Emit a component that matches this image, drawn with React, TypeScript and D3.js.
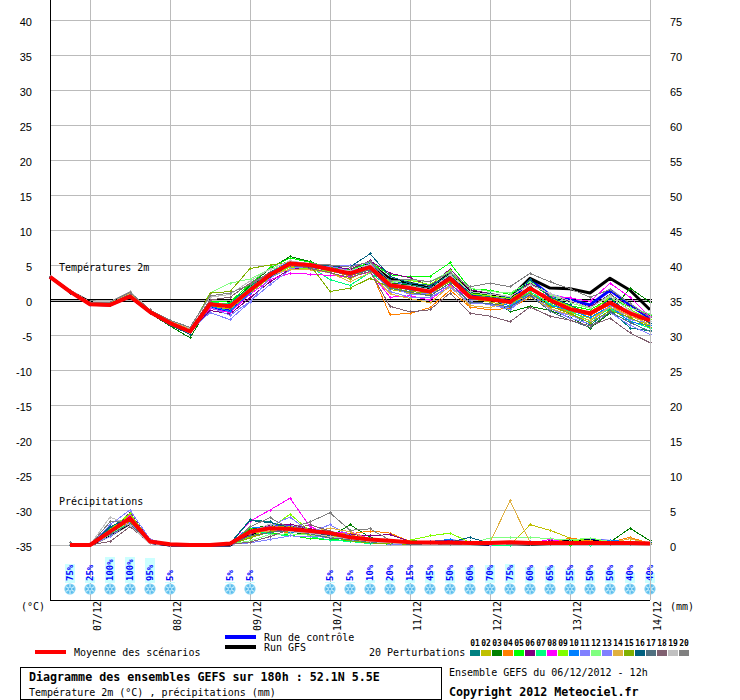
import React from "react";
import * as d3 from "d3";

const memberColors = ["#008080","#c0c000","#008000","#ff8000","#00ff00","#800080","#00ff80","#ff00ff","#80ff00","#0080ff","#8080ff","#80ff80","#8080ff","#e0b040","#80b000","#006080","#507080","#806070","#c0c0c0","#808080"];
const memberIds = ["01","02","03","04","05","06","07","08","09","10","11","12","13","14","15","16","17","18","19","20"];

const tempMean = [3.3,1.2,-0.6,-0.7,0.5,-1.7,-3.3,-4.5,-0.6,-0.9,1.4,3.6,5.2,5.0,4.4,3.8,4.7,2.1,1.7,1.2,3.1,0.4,0.1,-0.3,1.7,0.0,-1.3,-1.9,-0.4,-1.9,-2.9];
const tempControl = [3.3,1.2,-0.6,-0.7,0.5,-1.7,-3.3,-4.5,-1.0,-1.5,1.2,3.7,5.4,5.0,4.3,3.9,5.0,2.4,1.9,1.3,3.3,0.6,0.3,-0.2,2.9,0.7,0.0,-0.7,1.4,-0.7,-2.6];
const tempGfs = [3.3,1.2,-0.3,-0.5,0.6,-1.7,-3.3,-4.5,-0.6,-0.8,1.6,3.8,5.2,4.9,4.5,4.0,5.2,3.0,2.4,1.7,3.8,1.2,0.8,0.3,3.1,1.7,1.6,1.0,3.1,1.4,-1.4];
const tempMembers = [
  [3.3,1.0,-0.5,-0.6,0.5,-1.6,-3.4,-4.7,-0.4,-0.5,2.0,4.0,5.5,4.9,4.6,4.2,5.2,2.8,2.2,1.7,3.8,0.8,0.5,-0.2,2.0,-0.2,-2.0,-3.6,-1.4,-4.0,-4.4],
  [3.4,1.3,-0.5,-0.5,0.7,-1.6,-3.1,-4.3,-0.9,-1.3,1.0,3.4,4.7,4.6,3.9,3.0,4.5,1.5,1.0,0.8,2.7,0.2,-0.3,-0.8,1.2,-0.5,-1.8,-2.6,-1.1,-2.6,-3.6],
  [3.3,1.1,-0.7,-0.8,0.3,-1.9,-3.7,-5.4,-0.8,-0.9,2.1,4.5,6.2,5.5,4.3,3.6,4.6,2.4,2.1,1.4,3.7,1.0,0.7,-1.7,-0.9,-1.5,-2.5,-4.0,-1.9,1.7,-0.3],
  [3.3,1.2,-0.5,-0.6,0.6,-1.7,-3.3,-4.4,-0.7,-1.0,1.4,3.4,4.8,4.7,4.2,3.4,4.4,-2.1,-1.9,-1.1,1.4,-1.0,-1.4,-1.2,0.4,-1.0,-1.6,-2.2,-0.7,-2.4,-3.0],
  [3.3,1.2,-0.6,-0.6,0.6,-1.6,-3.2,-4.5,-0.2,-0.3,2.3,4.6,6.0,5.4,4.7,4.3,5.4,3.6,3.3,3.4,5.3,1.6,1.4,0.8,2.4,0.5,-0.8,-1.4,0.2,-1.0,-2.2],
  [3.3,1.2,-0.6,-0.7,0.4,-1.8,-3.5,-4.6,-1.5,-2.0,0.3,2.6,4.4,4.7,4.8,4.4,5.6,3.8,3.2,2.0,4.4,1.5,0.9,0.4,2.4,0.7,-0.2,-1.0,0.8,-1.0,-2.3],
  [3.3,1.2,-0.5,-0.6,0.5,-1.7,-3.3,-4.5,-0.3,-0.6,1.8,3.8,5.0,4.8,2.9,2.1,3.9,1.8,1.6,1.0,3.2,0.5,0.4,-0.6,1.2,-0.6,-1.6,-3.0,-1.2,-3.0,-4.0],
  [3.3,1.2,-0.6,-0.7,0.5,-1.8,-3.4,-4.5,-1.2,-1.8,0.8,2.9,3.8,3.7,3.5,3.3,4.0,0.4,0.6,0.0,2.2,0.3,0.2,-0.5,1.5,0.6,0.3,-0.2,2.4,0.4,-2.4],
  [3.3,1.2,-0.6,-0.7,0.6,-1.6,-3.2,-4.6,-0.5,-0.8,1.0,3.2,4.7,4.4,4.1,3.6,4.7,2.6,2.8,2.2,4.2,0.9,0.6,0.2,1.8,0.3,-0.9,-1.8,0.4,-1.4,-2.8],
  [3.3,1.1,-0.7,-0.7,0.5,-1.7,-3.3,-4.4,-0.9,-1.6,1.0,3.9,5.6,4.9,4.3,3.9,5.0,2.1,1.4,1.2,3.0,0.1,0.2,-0.9,1.0,-0.8,-1.4,-2.5,-0.9,-3.1,-3.7],
  [3.3,1.2,-0.6,-0.7,0.7,-1.7,-3.3,-4.4,-1.8,-2.8,-0.3,3.2,4.5,4.8,5.0,4.9,5.3,1.9,0.8,0.9,2.0,-0.2,-0.7,-1.1,0.6,-1.3,-2.2,-3.2,-1.8,-3.6,-4.9],
  [3.4,1.2,-0.4,-0.4,0.8,-1.5,-3.1,-4.2,1.0,2.4,3.0,4.4,5.0,4.8,4.2,3.7,4.4,2.5,2.9,2.6,4.1,1.7,1.2,1.0,2.6,0.8,-0.4,-1.2,0.7,-1.1,-2.0],
  [3.3,1.1,-0.8,-0.8,0.4,-1.8,-3.6,-4.7,-1.0,-2.2,-0.2,2.2,4.3,4.4,4.8,4.2,4.6,1.2,0.4,0.4,1.8,-0.5,-0.6,-1.4,0.9,-1.2,-2.6,-3.4,-0.7,-2.8,-3.3],
  [3.3,1.3,-0.5,-0.5,0.9,-1.5,-3.0,-4.1,-0.4,-0.7,1.6,3.5,4.4,4.3,3.9,2.6,3.9,0.9,0.2,-0.4,2.0,-0.8,-1.1,-0.2,0.5,-1.2,-2.1,-2.9,-1.0,-2.3,-3.4],
  [3.4,1.3,-0.4,-0.6,0.6,-1.6,-3.2,-4.3,1.0,1.2,4.5,5.0,5.4,5.0,1.2,1.7,3.1,1.8,1.2,1.0,2.6,0.6,0.0,-0.4,1.0,-0.9,-1.9,-3.3,-1.5,-2.5,-3.9],
  [3.3,1.0,-0.7,-0.8,0.3,-1.9,-3.6,-4.9,-0.6,-1.1,1.2,3.3,5.0,5.1,4.9,4.7,6.6,3.4,2.4,2.1,3.4,1.1,0.9,0.3,2.9,0.4,-0.7,-2.1,0.2,-1.9,-3.3],
  [3.3,1.2,-0.5,-0.7,0.6,-1.9,-3.5,-4.6,-0.3,-1.2,1.7,3.7,4.9,4.7,4.2,3.5,4.3,1.7,1.1,0.6,2.4,-0.3,-0.5,-1.0,0.7,-1.6,-2.9,-3.9,-1.7,-3.2,-4.5],
  [3.3,1.2,-0.4,-0.5,0.8,-1.7,-3.2,-4.3,0.0,0.4,2.4,3.9,5.1,4.5,3.9,3.2,4.1,-0.9,-1.7,-1.4,1.0,-1.9,-2.3,-3.1,-1.0,-2.3,-2.9,-3.7,-2.6,-4.7,-6.1],
  [3.4,1.4,-0.3,-0.2,1.2,-1.4,-2.9,-4.0,0.4,0.8,2.7,4.4,5.6,5.1,4.5,4.2,5.1,2.3,2.0,1.5,3.6,1.2,0.8,0.5,2.2,0.9,-0.1,-1.1,0.5,-1.5,-3.0],
  [3.4,1.3,-0.3,-0.3,1.1,-1.4,-2.9,-3.9,0.6,1.0,2.2,3.8,5.3,5.2,5.0,4.7,5.5,2.7,3.0,2.6,3.9,1.9,2.4,1.9,3.8,2.6,1.6,0.4,1.5,-0.5,-2.5],
];

const precipMean = [0,0,1.9,3.8,0.5,0.1,0,0,0.2,1.9,2.4,2.3,2.0,1.7,1.1,0.8,0.6,0.4,0.35,0.35,0.3,0.3,0.4,0.3,0.3,0.3,0.3,0.3,0.3,0.2];
const precipControl = [0,0,1.6,3.5,0.4,0,0,0,0,1.8,2.6,2.6,2.0,1.6,1.0,0.6,0.5,0.3,0.3,0.6,0.3,0.1,0.2,0.2,0.3,0.4,0.7,0.5,0.3,0.2];
const precipGfs = [0,0,1.4,3.1,0.4,0,0,0,0,1.5,2.5,2.4,2.1,1.8,1.2,0.7,0.4,0.3,0.2,0.2,0.2,0.1,0.2,0.1,0.2,0.6,0.6,0.2,0.3,0.2];
const precipMembers = [
  [0.1,0,2.4,4.4,0.6,0.1,0,0,0.2,3.6,3.3,2.2,1.9,1.5,1.1,0.6,0.3,0.2,0.2,0.3,0.5,0.1,0.2,0.3,0.2,0.4,0.2,0.6,0.3,0.2],
  [0,0,2.0,4.3,0.7,0,0,0,0.3,1.6,2.6,2.7,1.9,1.7,1.5,0.7,0.5,0.3,0.4,0.5,0.2,0.1,0,2.9,2.1,1.0,0.5,0.3,0.5,0.1],
  [0,0,1.7,3.6,0.4,0,0,0,0.2,2.2,2.9,1.9,1.4,1.1,2.9,1.1,0.3,0.2,0.1,0.2,0.1,0,0.1,0.2,0.1,0.2,0.1,0.4,2.4,0.6],
  [0,0,1.5,3.3,0.5,0,0,0,0.1,1.1,2.0,1.8,2.2,1.7,1.6,2.0,1.7,0.5,0.2,0.2,0.1,0.3,0.2,0.2,0.3,1.0,0.6,0.4,1.1,0.2],
  [0,0,2.2,4.0,0.5,0,0,0,0.2,2.4,1.7,1.4,0.9,0.8,0.6,0.3,0.1,0.7,0.3,0.2,0.3,0.2,0.1,0.1,0.1,0,0.2,0.4,0.2,0.1],
  [0,0,1.9,4.6,0.6,0,0,0,0.2,1.4,2.9,3.0,2.3,1.4,1.5,1.3,1.5,0.5,0.4,0.6,0.2,0.1,0.1,0.3,0.6,0.4,0.3,0.5,0.3,0.2],
  [0,0,1.6,3.1,0.3,0,0,0,0.1,2.1,1.6,1.3,1.2,0.7,0.5,0.2,0.2,0.1,0.1,0.1,0.2,0,0,0.1,0.2,0.1,0,0.2,0.1,0.1],
  [0,0,1.8,4.2,0.5,0,0,0,0.2,3.4,5.0,6.7,2.6,1.6,1.9,0.9,0.6,0.3,0.3,0.3,0.2,0.1,0.2,0.2,0.8,0.3,0.5,0.3,0.2,0.1],
  [0,0,2.2,4.5,0.6,0,0,0,0.2,1.2,2.4,4.4,2.0,1.3,1.0,0.5,0.3,0.7,1.3,1.7,0.4,0.2,0.3,0.2,0.3,0.5,1.0,0.4,0.2,0.1],
  [0,0,1.7,3.7,0.4,0,0,0,0.2,2.6,2.3,1.8,1.7,1.5,0.9,0.7,0.5,0.2,0.5,0.8,0.3,0.2,0.1,0.3,0.2,0.3,0.2,0.7,0.4,0.2],
  [0,0,2.9,5.0,0.8,0.1,0,0,0.2,2.0,2.7,4.0,1.8,2.9,1.3,0.9,0.4,0.3,0.3,0.3,0.2,0.2,0.2,0.5,0.3,0.2,0.2,0.3,0.2,0.2],
  [0,0,1.4,3.5,0.4,0,0,0,0.1,0.6,1.5,1.6,1.4,1.0,0.9,0.5,0.2,0.2,0.3,0.3,0.2,1.0,1.1,1.1,0.9,0.7,1.0,0.5,0.3,0.1],
  [0,0,1.2,3.2,0.3,0,0,0,0.1,0.3,0.8,1.3,1.2,1.1,0.7,0.4,0.1,0.1,0.2,0.2,0.1,0,0.1,0.1,0.1,0.1,0.1,0.2,0.1,0.1],
  [0,0,2.0,3.9,0.5,0,0,0,0.2,1.7,2.0,2.4,1.8,2.4,1.9,0.8,0.5,0.2,0.3,0.3,0.2,0.4,6.3,0.4,0.3,0.2,0.5,0.3,0.9,0.2],
  [0,0,1.8,3.4,0.4,0,0,0,0.1,1.0,1.9,2.0,1.5,1.2,0.6,0.3,0.2,0.1,0.2,0.2,0.1,0.1,0.1,0.1,0.2,0.1,0.1,0.2,0.2,0.1],
  [0,0,2.6,3.9,0.5,0,0,0,0.2,3.5,3.2,2.5,1.6,1.4,1.2,0.6,0.3,0.2,0.2,0.4,1.1,0.2,0.1,0.2,0.1,0.5,0.3,0.3,0.2,0.3],
  [0,0,1.5,3.0,0.3,0,0,0,0.1,1.3,1.8,2.1,1.6,1.0,0.8,0.4,0.3,0.1,0.1,0.2,0.2,0.1,0.1,0.2,0.1,0.2,0.2,0.1,0.1,0.1],
  [0.1,0,0.5,2.6,0.3,0,0,0,0.1,0.4,1.2,2.2,2.9,2.0,1.0,0.7,0.5,0.2,0.1,0.1,0.1,0.1,0.1,0.1,0.1,0.2,0.2,0.2,0.1,0.1],
  [0.1,0,4.0,2.8,0.2,0,0,0,0.1,1.8,3.0,1.9,1.7,1.2,0.9,0.5,0.3,0.2,0.1,0.2,0.1,0.1,0.1,0.1,0.1,0.1,0.1,0.2,0.1,0.1],
  [0.3,0,3.3,3.5,0.5,0.1,0,0,0.1,2.6,3.9,2.4,3.3,4.6,2.1,2.3,0.7,0.2,0.2,0.1,0.4,0.3,0.1,0.1,0.1,0.1,0.2,0.1,0.1,0.1],
];

const snowSteps = [1,2,3,4,5,6,9,10,14,15,16,17,18,19,20,21,22,23,24,25,26,27,28,29,30];
const snowPercent = [75,25,100,100,95,5,5,5,5,5,10,20,15,45,50,60,70,75,60,65,55,50,50,40,40];
const dateSteps = [2,6,10,14,18,22,26,30];
const dateLabels = ["07/12","08/12","09/12","10/12","11/12","12/12","13/12","14/12"];
const tempTicks = [40,35,30,25,20,15,10,5,0,-5,-10,-15,-20,-25,-30,-35];
const precipTicks = [75,70,65,60,55,50,45,40,35,30,25,20,15,10,5,0];

const MONO = "'DejaVu Sans Mono', monospace";
const SANS = "'Liberation Sans', Arial, sans-serif";
const GRID = "#bbbbbb";

const x = d3.scaleLinear().domain([0, 30]).range([50, 650]);
const yT = d3.scaleLinear().domain([-35, 40]).range([545, 20]);
const yP = d3.scaleLinear().domain([0, 75]).range([545, 20]);
const tempLine = d3.line<number>().x((_, i) => x(i)).y((d) => yT(d));
const precipLine = d3.line<number>().x((_, i) => x(i + 1)).y((d) => yP(d));

function Series({ path, color, width }: { path: string; color: string; width: number }) {
  return <path d={path} fill="none" stroke={color} strokeWidth={width} strokeLinejoin="round" />;
}

function Crosses({ values, color, pos, y }: { values: number[]; color: string; pos: (i: number) => number; y: (v: number) => number }) {
  const d = values.map((v, i) => `M${pos(i) - 1.5},${y(v)}h3M${pos(i)},${y(v) - 1.5}v3`).join("");
  return <path d={d} stroke={color} strokeWidth={1} fill="none" />;
}

function Flake({ cx, cy }: { cx: number; cy: number }) {
  const spokes = d3.range(6).map((k) => (k * Math.PI) / 3 + Math.PI / 6);
  return (
    <g>
      <circle cx={cx} cy={cy} r={5.6} fill="#78cdf2" />
      {spokes.map((a, k) => (
        <g key={k}>
          <line x1={cx} y1={cy} x2={cx + 5 * Math.cos(a)} y2={cy + 5 * Math.sin(a)} stroke="#d8f2fc" strokeWidth={0.9} />
          <circle cx={cx + 3.6 * Math.cos(a + Math.PI / 6)} cy={cy + 3.6 * Math.sin(a + Math.PI / 6)} r={0.7} fill="#3aa6e6" />
        </g>
      ))}
      <circle cx={cx} cy={cy} r={1.1} fill="#3aa6e6" />
    </g>
  );
}

export default function App() {
  return (
    <svg width={740} height={700} style={{ position: "absolute", left: 0, top: 0, background: "#fff" }}>
      {/* grid */}
      <g stroke={GRID} strokeWidth={1} shapeRendering="crispEdges">
        {tempTicks.map((t) => (
          <line key={t} x1={50} x2={650} y1={yT(t) + 0.5} y2={yT(t) + 0.5} />
        ))}
        {dateSteps.map((s) => (
          <line key={s} x1={x(s) + 0.5} x2={x(s) + 0.5} y1={0} y2={600} />
        ))}
      </g>
      <g stroke="#000" strokeWidth={1} shapeRendering="crispEdges">
        <line x1={50} x2={652} y1={yT(0) - 0.5} y2={yT(0) - 0.5} />
        <line x1={50} x2={652} y1={yT(0) + 1.5} y2={yT(0) + 1.5} />
        <line x1={50.5} x2={50.5} y1={0} y2={600} />
        <line x1={50} x2={650} y1={600.5} y2={600.5} />
      </g>

      {/* axis labels */}
      <g fontFamily={SANS} fontSize={11} fill="#000">
        {tempTicks.map((t) => (
          <text key={t} x={32} y={yT(t) + 6} textAnchor="end">{t}</text>
        ))}
        {precipTicks.map((t) => (
          <text key={t} x={670} y={yP(t) + 6}>{t}</text>
        ))}
      </g>
      <g fontFamily={MONO} fontSize={10} fill="#000">
        <text x={21} y={610}>(°C)</text>
        <text x={670} y={610}>(mm)</text>
        {dateSteps.map((s, i) => (
          <text key={s} transform={`translate(${x(s) + 11},631) rotate(-90)`}>{dateLabels[i]}</text>
        ))}
        <text x={59} y={271}>Températures 2m</text>
        <text x={59} y={505}>Précipitations</text>
      </g>

      {/* snow probability */}
      {snowSteps.map((s, i) => {
        const p = snowPercent[i];
        const h = 0.26 * p;
        return (
          <g key={s}>
            <rect x={x(s) - 5} y={583 - h} width={10} height={h} fill="#ccffff" shapeRendering="crispEdges" />
            <text transform={`translate(${x(s) + 3},581) rotate(-90)`} fontFamily={MONO} fontSize={9} fontWeight="bold" fill="#0000ff">{p}%</text>
            <Flake cx={x(s)} cy={589} />
          </g>
        );
      })}

      {/* temperature: control and GFS under the members, mean on top */}
      <Series path={tempLine(tempControl) as string} color="#0000ff" width={3} />
      <Series path={tempLine(tempGfs) as string} color="#000000" width={3} />
      <g shapeRendering="crispEdges">
        {tempMembers.map((m, i) => (
          <g key={i}>
            <Series path={tempLine(m) as string} color={memberColors[i]} width={1} />
            <Crosses values={m} color={memberColors[i]} pos={(k) => x(k)} y={yT} />
          </g>
        ))}
      </g>
      <Series path={tempLine(tempMean) as string} color="#ff0000" width={4} />

      {/* precipitation */}
      <Series path={precipLine(precipControl) as string} color="#0000ff" width={3} />
      <Series path={precipLine(precipGfs) as string} color="#000000" width={3} />
      <g shapeRendering="crispEdges">
        {precipMembers.map((m, i) => (
          <g key={i}>
            <Series path={precipLine(m) as string} color={memberColors[i]} width={1} />
            <Crosses values={m} color={memberColors[i]} pos={(k) => x(k + 1)} y={yP} />
          </g>
        ))}
      </g>
      <Series path={precipLine(precipMean) as string} color="#ff0000" width={4} />

      {/* right axis */}
      <line x1={650.5} x2={650.5} y1={0} y2={600} stroke={GRID} shapeRendering="crispEdges" />

      {/* legend */}
      <g shapeRendering="crispEdges">
        <rect x={35} y={650} width={31} height={4} fill="#ff0000" />
        <rect x={225} y={635} width={31} height={4} fill="#0000ff" />
        <rect x={225} y={645} width={31} height={4} fill="#000000" />
      </g>
      <g fontFamily={MONO} fontSize={10} fill="#000">
        <text x={74} y={656}>Moyenne des scénarios</text>
        <text x={264} y={641}>Run de contrôle</text>
        <text x={264} y={651}>Run GFS</text>
        <text x={369} y={656}>20 Perturbations</text>
      </g>
      {memberIds.map((id, i) => (
        <g key={id}>
          <rect x={470 + i * 11} y={650} width={10} height={6} fill={memberColors[i]} shapeRendering="crispEdges" />
          <text x={475 + i * 11} y={646} fontFamily={MONO} fontSize={8} fontWeight="bold" textAnchor="middle" fill="#000">{id}</text>
        </g>
      ))}

      {/* title block */}
      <rect x={20.5} y={667.5} width={421} height={32} fill="none" stroke="#000" shapeRendering="crispEdges" />
      <text x={29} y={681} fontFamily={MONO} fontSize={11.67} fontWeight="bold">Diagramme des ensembles GEFS sur 180h : 52.1N 5.5E</text>
      <text x={29} y={696} fontFamily={MONO} fontSize={10}>Température 2m (°C) , précipitations (mm)</text>
      <text x={449} y={676} fontFamily={MONO} fontSize={10}>Ensemble GEFS du 06/12/2012 - 12h</text>
      <text x={449} y={696} fontFamily={MONO} fontSize={11.67} fontWeight="bold">Copyright 2012 Meteociel.fr</text>
    </svg>
  );
}
